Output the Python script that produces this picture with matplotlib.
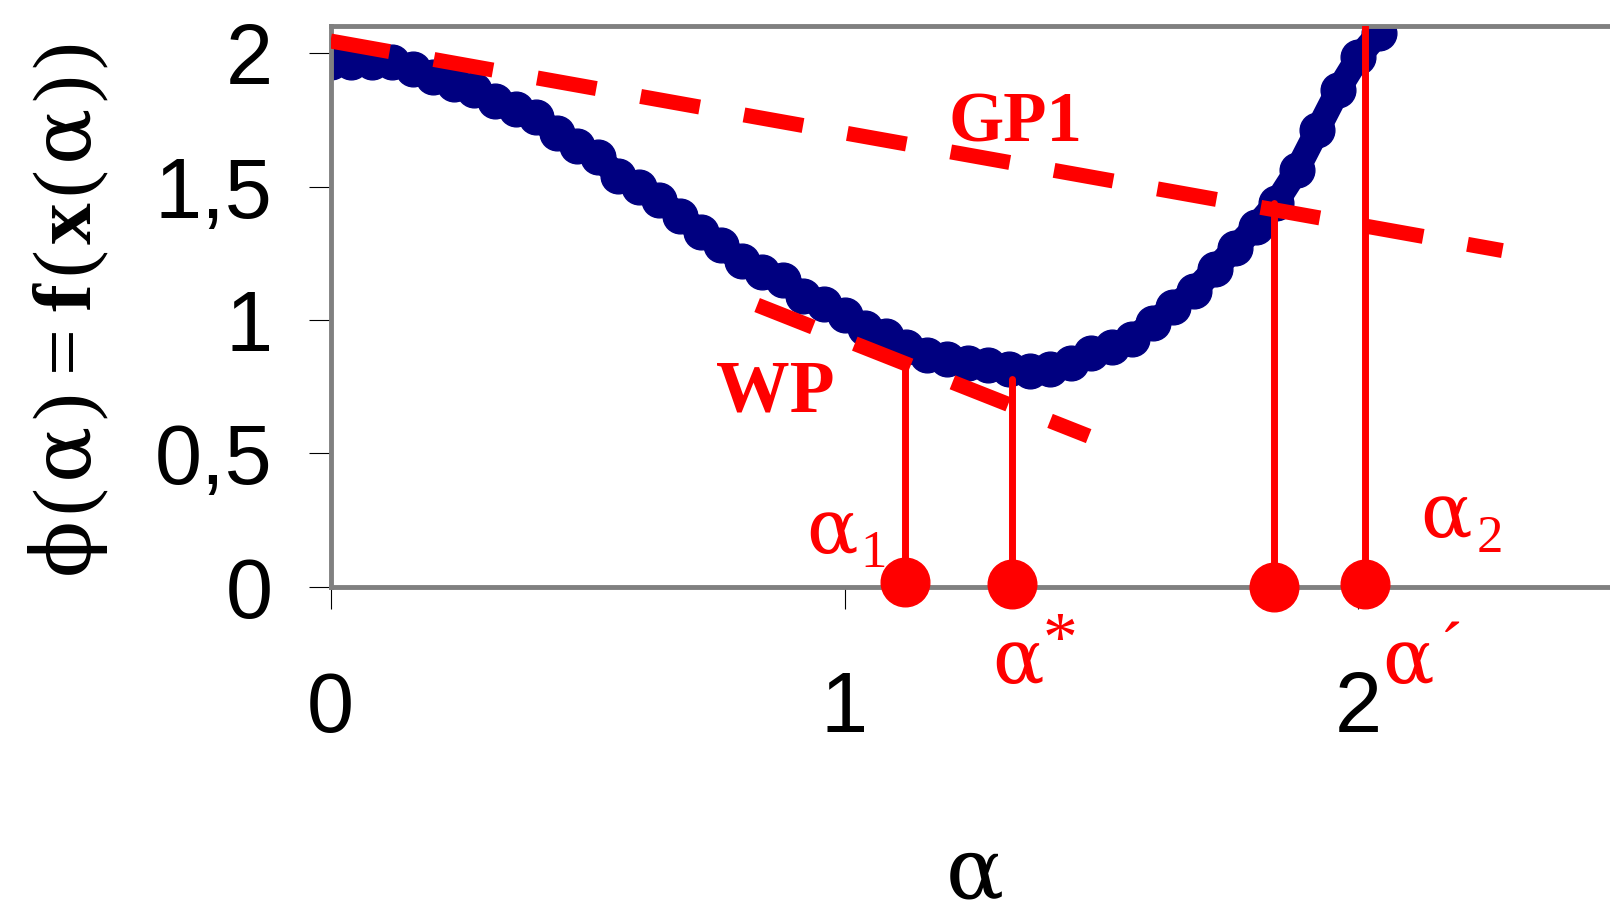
import matplotlib
matplotlib.use("Agg")
import matplotlib.pyplot as plt

# ---------------- data ----------------
alpha_grid = [0.00, 0.04, 0.08, 0.12, 0.16, 0.20, 0.24, 0.28, 0.32, 0.36,
              0.40, 0.44, 0.48, 0.52, 0.56, 0.60, 0.64, 0.68, 0.72, 0.76,
              0.80, 0.84, 0.88, 0.92, 0.96, 1.00, 1.04, 1.08, 1.12, 1.16,
              1.20, 1.24, 1.28, 1.32, 1.36, 1.40, 1.44, 1.48, 1.52, 1.56,
              1.60, 1.64, 1.68, 1.72, 1.76, 1.80, 1.84, 1.88, 1.92, 1.96,
              2.00, 2.04]
phi_values = [1.965, 1.965, 1.965, 1.965, 1.94, 1.91, 1.885, 1.86, 1.82, 1.79,
              1.76, 1.70, 1.65, 1.61, 1.54, 1.50, 1.45, 1.39, 1.33, 1.28,
              1.22, 1.18, 1.15, 1.09, 1.06, 1.02, 0.97, 0.94, 0.90, 0.87,
              0.855, 0.84, 0.83, 0.815, 0.81, 0.815, 0.84, 0.875, 0.90, 0.93,
              0.99, 1.05, 1.11, 1.19, 1.27, 1.35, 1.44, 1.56, 1.71, 1.86,
              1.985, 2.075]

gp1_alpha = [0.0, 2.28]
gp1_phi = [2.045, 1.26]
wp_alpha = [0.83, 1.475]
wp_phi = [1.056, 0.565]

stem_alpha = [1.118, 1.326, 1.835, 2.013]
stem_top = [0.84, 0.78, 1.44, 2.10]
dot_phi = [0.02, 0.01, 0.0, 0.01]

xticks = [0, 1, 2]
xticklabels = ["0", "1", "2"]
yticks = [0, 0.5, 1, 1.5, 2]
yticklabels = ["0", "0,5", "1", "1,5", "2"]

# ---------------- style ----------------
plt.rcParams["font.family"] = ["Liberation Sans", "DejaVu Sans"]
plt.rcParams["mathtext.fontset"] = "custom"
plt.rcParams["mathtext.rm"] = "Liberation Serif"
plt.rcParams["mathtext.bf"] = "Liberation Serif:bold"
plt.rcParams["mathtext.it"] = "Liberation Serif:italic"
plt.rcParams["mathtext.sf"] = "DejaVu Serif"

NAVY = "#000080"
RED = "#FF0000"
GRAY = "#808080"

fig = plt.figure(figsize=(16.10, 9.17), dpi=100)
ax = fig.add_axes([0.2053, 0.3599, 0.7981, 0.6114])
ax.set_xlim(0, 2.5)
ax.set_ylim(0, 2.1)

for s in ax.spines.values():
    s.set_color(GRAY)
    s.set_linewidth(3.5)

ax.set_xticks(xticks)
ax.set_xticklabels(xticklabels)
ax.set_yticks(yticks)
ax.set_yticklabels(yticklabels)
ax.tick_params(axis="both", direction="out", length=15.8, width=0.8,
               color="black", labelsize=61)
ax.tick_params(axis="x", pad=44)
ax.tick_params(axis="y", pad=26)

# main curve
ax.plot(alpha_grid, phi_values, color=NAVY, lw=18, marker="o", ms=25,
        solid_capstyle="round", zorder=2)

# dashed tangents
ax.plot(gp1_alpha, gp1_phi, color=RED, lw=10.8, dashes=(4, 3),
        dash_capstyle="butt", zorder=3)
ax.plot(wp_alpha, wp_phi, color=RED, lw=10.8, dashes=(4, 3),
        dash_capstyle="butt", zorder=3)

# stems + dots
ax.vlines(stem_alpha, 0, stem_top, color=RED, lw=5, capstyle="round", zorder=4)
ax.plot(stem_alpha, dot_phi, "o", color=RED, ms=35, mec=RED, clip_on=False, zorder=5)

serif = "Liberation Serif"
greek = "DejaVu Serif"
# labels
ax.text(1.333, 1.667, "GP1", color=RED, fontsize=51, fontweight="bold",
        family=serif, ha="center", va="baseline")
ax.text(0.866, 0.659, "WP", color=RED, fontsize=53, fontweight="bold",
        family=serif, ha="center", va="baseline")

ax.text(0.976, 0.127, "α", color=RED, fontsize=55, family=greek,
        ha="center", va="baseline", clip_on=False)
ax.text(1.057, 0.075, "1", color=RED, fontsize=38, family=serif,
        ha="center", va="baseline", clip_on=False)
ax.text(2.170, 0.187, "α", color=RED, fontsize=55, family=greek,
        ha="center", va="baseline", clip_on=False)
ax.text(2.256, 0.131, "2", color=RED, fontsize=38, family=serif,
        ha="center", va="baseline", clip_on=False)
ax.text(1.337, -0.36, "α", color=RED, fontsize=55, family=greek,
        ha="center", va="baseline", clip_on=False)
ax.text(1.419, -0.273, "*", color=RED, fontsize=50, family=serif,
        ha="center", va="baseline", clip_on=False)
ax.text(2.096, -0.36, "α", color=RED, fontsize=55, family=greek,
        ha="center", va="baseline", clip_on=False)
ax.text(2.18, -0.31, "´", color=RED, fontsize=50, family=serif,
        ha="center", va="baseline", clip_on=False)

# axis titles
fig.text(0.6056, 0.0, "α", fontsize=62, family=greek, ha="center",
         va="bottom", color="black")
sp = r"\hspace{0.09}"
ylab = (r"$\mathsf{ϕ}" + sp + r"\mathrm{(}" + sp + r"\mathsf{α}" + sp + r"\mathrm{)}"
        + sp + r"\mathrm{=}" + sp + r"\mathbf{f}" + sp + r"\mathrm{(}" + sp
        + r"\mathbf{x}" + sp + r"\mathrm{(}" + sp + r"\mathsf{α}" + sp
        + r"\mathrm{)}" + sp + r"\mathrm{)}$")
fig.text(0.043, 0.661, ylab, fontsize=60, rotation=90, ha="center",
         va="center", color="black")

fig.savefig("out.png", dpi=100)
